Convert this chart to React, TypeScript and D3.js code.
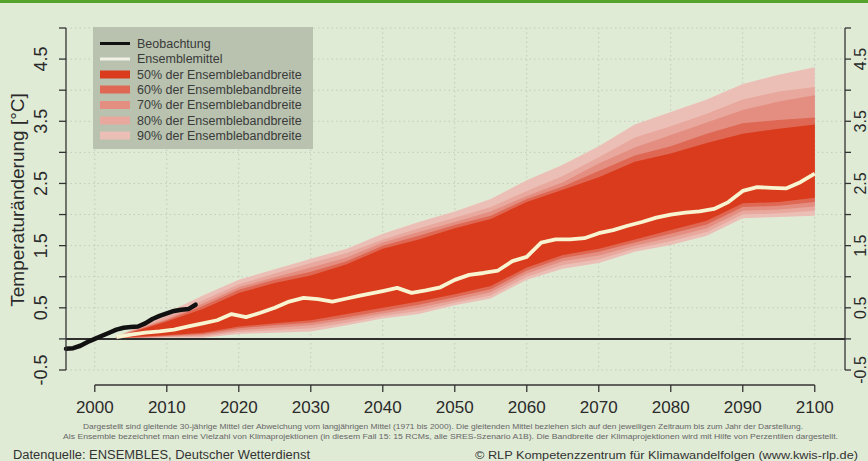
import React from "react";
import * as d3 from "d3";

// observed 30-year running mean (deviation from 1971-2000)
const obsYears = [1996, 1997, 1998, 1999, 2000, 2001, 2002, 2003, 2004, 2005, 2006, 2007, 2008, 2009, 2010, 2011, 2012, 2013, 2014];
const obsValues = [-0.16, -0.15, -0.11, -0.05, 0.0, 0.05, 0.1, 0.15, 0.18, 0.19, 0.2, 0.25, 0.32, 0.37, 0.41, 0.45, 0.47, 0.48, 0.55];

// ensemble mean
const meanYears = [2003, 2005, 2007, 2009, 2011, 2013, 2015, 2017, 2019, 2021, 2023, 2025, 2027, 2029, 2031, 2033, 2035, 2037, 2040, 2042, 2044, 2046, 2048, 2050, 2052, 2054, 2056, 2058, 2060, 2062, 2064, 2066, 2068, 2070, 2072, 2074, 2076, 2078, 2080, 2082, 2084, 2086, 2088, 2090, 2092, 2094, 2096, 2098, 2100];
const meanValues = [0.03, 0.07, 0.1, 0.12, 0.15, 0.2, 0.25, 0.3, 0.4, 0.35, 0.42, 0.5, 0.6, 0.66, 0.64, 0.6, 0.65, 0.7, 0.77, 0.82, 0.74, 0.78, 0.83, 0.95, 1.03, 1.06, 1.1, 1.25, 1.32, 1.55, 1.6, 1.6, 1.62, 1.7, 1.75, 1.82, 1.88, 1.95, 2.0, 2.03, 2.05, 2.09, 2.2, 2.38, 2.44, 2.43, 2.42, 2.52, 2.66];

// ensemble percentile bands
const bandYears = [2003, 2005, 2010, 2015, 2020, 2025, 2030, 2035, 2040, 2045, 2050, 2055, 2060, 2065, 2070, 2075, 2080, 2085, 2090, 2095, 2100];
const upper90 = [0.04, 0.14, 0.42, 0.7, 0.95, 1.12, 1.29, 1.45, 1.69, 1.88, 2.05, 2.25, 2.55, 2.8, 3.1, 3.45, 3.65, 3.85, 4.1, 4.25, 4.37];
const upper80 = [0.04, 0.13, 0.36, 0.62, 0.88, 1.05, 1.22, 1.38, 1.6, 1.78, 1.95, 2.12, 2.38, 2.62, 2.92, 3.24, 3.42, 3.62, 3.85, 3.98, 4.05];
const upper70 = [0.03, 0.12, 0.32, 0.57, 0.83, 0.99, 1.15, 1.31, 1.55, 1.72, 1.88, 2.05, 2.3, 2.52, 2.82, 3.08, 3.28, 3.48, 3.68, 3.82, 3.92];
const upper60 = [0.03, 0.11, 0.3, 0.53, 0.79, 0.95, 1.08, 1.25, 1.5, 1.66, 1.83, 1.98, 2.25, 2.45, 2.7, 2.95, 3.1, 3.3, 3.47, 3.52, 3.56];
const upper50 = [0.03, 0.1, 0.28, 0.48, 0.74, 0.9, 1.02, 1.2, 1.45, 1.6, 1.78, 1.93, 2.2, 2.4, 2.6, 2.85, 2.98, 3.15, 3.3, 3.38, 3.45];
const lower50 = [0.02, 0.03, 0.06, 0.1, 0.2, 0.25, 0.3, 0.4, 0.5, 0.6, 0.72, 0.85, 1.15, 1.35, 1.45, 1.6, 1.75, 1.9, 2.18, 2.2, 2.27];
const lower60 = [0.02, 0.02, 0.05, 0.08, 0.17, 0.22, 0.26, 0.35, 0.45, 0.55, 0.67, 0.8, 1.1, 1.3, 1.4, 1.55, 1.69, 1.84, 2.12, 2.14, 2.2];
const lower70 = [0.01, 0.01, 0.04, 0.06, 0.14, 0.18, 0.22, 0.31, 0.41, 0.5, 0.62, 0.75, 1.05, 1.25, 1.34, 1.5, 1.63, 1.78, 2.06, 2.08, 2.13];
const lower80 = [0.01, 0.0, 0.03, 0.04, 0.11, 0.14, 0.17, 0.26, 0.37, 0.45, 0.58, 0.7, 1.0, 1.19, 1.28, 1.45, 1.57, 1.72, 2.0, 2.02, 2.06];
const lower90 = [0.0, 0.0, 0.02, 0.02, 0.08, 0.1, 0.12, 0.22, 0.33, 0.4, 0.54, 0.65, 0.95, 1.13, 1.22, 1.4, 1.51, 1.66, 1.94, 1.96, 1.98];

const xTicks = [2000, 2010, 2020, 2030, 2040, 2050, 2060, 2070, 2080, 2090, 2100];
const yTicks = [-0.5, 0, 0.5, 1, 1.5, 2, 2.5, 3, 3.5, 4, 4.5, 5];
const yLabels = ["-0.5", "0.5", "1.5", "2.5", "3.5", "4.5"];

const legendLabels = ["Beobachtung", "Ensemblemittel", "50% der Ensemblebandbreite", "60% der Ensemblebandbreite", "70% der Ensemblebandbreite", "80% der Ensemblebandbreite", "90% der Ensemblebandbreite"];

const note1 = "Dargestellt sind gleitende 30-jährige Mittel der Abweichung vom langjährigen Mittel (1971 bis 2000). Die gleitenden Mittel beziehen sich auf den jeweiligen Zeitraum bis zum Jahr der Darstellung.";
const note2 = "Als Ensemble bezeichnet man eine Vielzahl von Klimaprojektionen (in diesem Fall 15: 15 RCMs, alle SRES-Szenario A1B). Die Bandbreite der Klimaprojektionen wird mit Hilfe von Perzentilen dargestellt.";

const W = 868;
const H = 461;
const font = "'Liberation Sans', Arial, sans-serif";

const bands = [
  { lo: lower90, hi: upper90, color: "#ecbfb6" },
  { lo: lower80, hi: upper80, color: "#e8a89d" },
  { lo: lower70, hi: upper70, color: "#e38e81" },
  { lo: lower60, hi: upper60, color: "#de6853" },
  { lo: lower50, hi: upper50, color: "#d93b1c" },
];

export default function App() {
  const x = d3.scaleLinear().domain([1996, 2104.2]).range([66, 845]);
  const y = d3.scaleLinear().domain([-0.5, 5.0]).range([370, 28]);

  const bandPath = (lo: number[], hi: number[]) =>
    d3
      .area<number>()
      .x((i) => x(bandYears[i]))
      .y0((i) => y(lo[i]))
      .y1((i) => y(hi[i]))(bandYears.map((_, i) => i));

  const line = d3
    .line<[number, number]>()
    .x((d) => x(d[0]))
    .y((d) => y(d[1]));

  const meanPath = line(meanYears.map((yr, i) => [yr, meanValues[i]]));
  const obsPath = line(obsYears.map((yr, i) => [yr, obsValues[i]]));

  const legendY = [43.5, 59, 74.5, 89.5, 105, 120.5, 135.5];
  const legendColors = ["#111", "#f2f1e6", ...bands.map((b) => b.color).reverse()];

  return (
    <svg
      width={W}
      height={H}
      style={{ position: "absolute", left: 0, top: 0, fontFamily: font }}
    >
      <rect x={0} y={0} width={W} height={H} fill="#e0ebd6" />
      <rect x={0} y={0} width={W} height={3} fill="#55a22c" />

      {/* grid */}
      <g stroke="#c3cbbb" strokeWidth={1} strokeDasharray="1.5,3">
        {xTicks.map((t) => (
          <line key={"gx" + t} x1={x(t)} x2={x(t)} y1={y(5)} y2={y(-0.5)} />
        ))}
        {yTicks.map((t) => (
          <line key={"gy" + t} x1={x(1996)} x2={x(2104.2)} y1={y(t)} y2={y(t)} />
        ))}
      </g>

      {/* ensemble bands */}
      {bands.map((b, k) => (
        <path key={"band" + k} d={bandPath(b.lo, b.hi) || ""} fill={b.color} />
      ))}

      <line x1={x(1996)} x2={x(2104.2)} y1={y(0)} y2={y(0)} stroke="#2f2f2f" strokeWidth={2} />

      <path d={meanPath || ""} fill="none" stroke="#f8f3d0" strokeWidth={3.8} strokeLinejoin="round" />
      <path d={obsPath || ""} fill="none" stroke="#111" strokeWidth={4.5} strokeLinejoin="round" strokeLinecap="round" />

      {/* axes */}
      <g stroke="#333" strokeWidth={1.3}>
        <line x1={66} x2={66} y1={y(5)} y2={y(-0.5)} />
        {yTicks.map((t) => (
          <line key={"lt" + t} x1={59} x2={66} y1={y(t)} y2={y(t)} />
        ))}
        <line x1={845} x2={845} y1={y(5)} y2={y(-0.5)} />
        {yTicks.map((t) => (
          <line key={"rt" + t} x1={845} x2={851} y1={y(t)} y2={y(t)} />
        ))}
        <line x1={x(2000)} x2={x(2100)} y1={385} y2={385} />
        {xTicks.map((t) => (
          <line key={"xt" + t} x1={x(t)} x2={x(t)} y1={385} y2={392} />
        ))}
      </g>
      <g fill="#2a2a2a" fontSize={18} textAnchor="middle">
        {yLabels.map((l) => (
          <text key={"ll" + l} transform={`translate(47,${y(+l)}) rotate(-90)`}>{l}</text>
        ))}
      </g>
      <g fill="#2a2a2a" fontSize={16} textAnchor="middle">
        {yLabels.map((l) => (
          <text key={"rl" + l} transform={`translate(866,${y(+l)}) rotate(-90)`}>{l}</text>
        ))}
      </g>
      <g fill="#2a2a2a" fontSize={17} textAnchor="middle">
        {xTicks.map((t) => (
          <text key={"xl" + t} x={x(t)} y={413}>{t}</text>
        ))}
      </g>
      <text transform="translate(24,200) rotate(-90)" textAnchor="middle" fontSize={19} fill="#2a2a2a">
        Temperaturänderung [°C]
      </text>

      {/* legend */}
      <rect x={93} y={27} width={220} height={122} fill="#b8c2af" />
      {legendLabels.map((l, i) => (
        <g key={"lg" + i}>
          <line
            x1={100}
            x2={130}
            y1={legendY[i]}
            y2={legendY[i]}
            stroke={legendColors[i]}
            strokeWidth={i < 2 ? 3 : 8}
          />
          <text x={137} y={legendY[i] + 4} fontSize={12.5} fill="#3a3a3a">
            {l}
          </text>
        </g>
      ))}

      {/* footnotes */}
      <text x={83} y={428.5} fontSize={7} fill="#666" textLength={720} lengthAdjust="spacingAndGlyphs">{note1}</text>
      <text x={63} y={438.5} fontSize={7} fill="#666" textLength={775} lengthAdjust="spacingAndGlyphs">{note2}</text>
      <text x={13} y={459} fontSize={12} fill="#333" textLength={297} lengthAdjust="spacingAndGlyphs">
        Datenquelle: ENSEMBLES, Deutscher Wetterdienst
      </text>
      <text x={475} y={459} fontSize={11.5} fill="#333" textLength={383} lengthAdjust="spacingAndGlyphs">
        © RLP Kompetenzzentrum für Klimawandelfolgen (www.kwis-rlp.de)
      </text>
    </svg>
  );
}
